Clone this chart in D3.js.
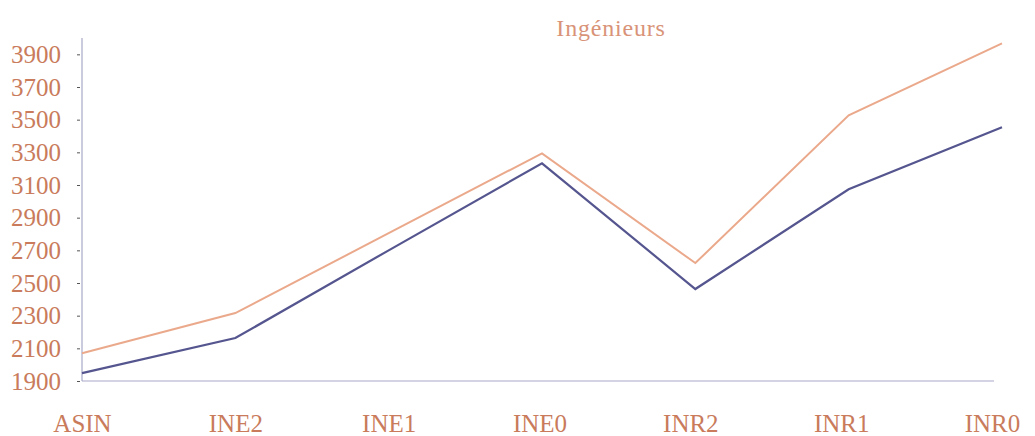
<!DOCTYPE html>
<html><head><meta charset="utf-8">
<script src="https://cdn.jsdelivr.net/npm/d3@7"></script>
<style>body{margin:0;background:#fff}svg{display:block}</style>
</head><body>
<script>
const categories = ["ASIN","INE2","INE1","INE0","INR2","INR1","INR0"];
const seriesUpper = [2070, 2316, 2805, 3294, 2622, 3527, 3967];
const seriesLower = [1948, 2163, 2700, 3233, 2463, 3074, 3453];
const yTicks = [1900,2100,2300,2500,2700,2900,3100,3300,3500,3700,3900];
const title = "Ingénieurs";

const W = 1035, H = 436;
const svg = d3.select("body").append("svg").attr("width", W).attr("height", H);
const x = d3.scalePoint().domain(categories).range([82, 1002]);
const y = d3.scaleLinear().domain([1900, 4000]).range([381, 38]);

const labelColor = "#c97b5b";
const font = "'Liberation Serif', 'DejaVu Serif', serif";

// axes lines
svg.append("line").attr("x1", 82).attr("x2", 82).attr("y1", y(4000)).attr("y2", y(1900))
  .attr("stroke", "#a8a8c8").attr("stroke-width", 1.2);
svg.append("line").attr("x1", 82).attr("x2", 994).attr("y1", y(1900)).attr("y2", y(1900))
  .attr("stroke", "#a8a8c8").attr("stroke-width", 1.2);

const yAxis = d3.axisLeft(y).tickValues(yTicks).tickSize(4).tickPadding(15).tickFormat(d3.format("d"));
const gy = svg.append("g").attr("transform", "translate(80,0)").call(yAxis);
gy.select(".domain").remove();
gy.selectAll(".tick line").attr("stroke", "#555").attr("x2", -3);
gy.selectAll(".tick text").attr("fill", labelColor).style("font-family", font).style("font-size", "25px");

const xAxis = d3.axisBottom(x).tickSize(0).tickPadding(33);
const gx = svg.append("g").attr("transform", `translate(0,${y(1900)})`).call(xAxis);
gx.select(".domain").remove();
gx.selectAll(".tick text").attr("fill", labelColor).style("font-family", font).style("font-size", "25px")
  .attr("dx", (d, i) => i >= 3 ? -(i - 2) * 2.5 : 0);

const line = d3.line().x((d, i) => x(categories[i])).y(d => y(d));
svg.append("path").datum(seriesUpper).attr("d", line).attr("fill", "none")
  .attr("stroke", "#eba98c").attr("stroke-width", 2);
svg.append("path").datum(seriesLower).attr("d", line).attr("fill", "none")
  .attr("stroke", "#55558f").attr("stroke-width", 2.2);

svg.append("text").attr("x", 611).attr("y", 36).attr("text-anchor", "middle")
  .attr("fill", "#d99378").style("font-family", font).style("font-size", "24px")
  .style("letter-spacing", "0.8px").text(title);
</script>
</body></html>
